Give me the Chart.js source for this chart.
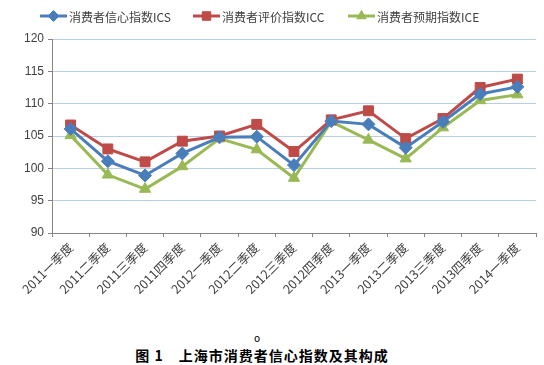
<!DOCTYPE html>
<html>
<head>
<meta charset="utf-8">
<script src="https://cdn.jsdelivr.net/npm/chart.js@4/dist/chart.umd.min.js"></script>
<style>
  body { margin: 0; background: #fff; width: 544px; height: 365px; overflow: hidden; position: relative; }
  #wrap { position: absolute; left: 0; top: 0; width: 544px; height: 320px; }
  #caption { position: absolute; left: 0; width: 544px; top: 345px; text-align: center; font: bold 14px "Noto Sans CJK SC", sans-serif; color: #000; letter-spacing: 1px; padding-right: 20px; box-sizing: border-box; }
  .dot { position: absolute; font: 10px "DejaVu Sans", sans-serif; color: #000; }
</style>
</head>
<body>
<div id="wrap"><canvas id="myChart" width="544" height="320"></canvas></div>
<div class="dot" style="left:254px; top:333px;">o</div>
<div id="caption">图 1　上海市消费者信心指数及其构成</div>
<script>
const quarters = ['2011一季度', '2011二季度', '2011三季度', '2011四季度', '2012一季度', '2012二季度', '2012三季度',
    '2012四季度', '2013一季度', '2013二季度', '2013三季度', '2013四季度', '2014一季度']
const seriesNames = ['消费者信心指数ICS', '消费者评价指数ICC', '消费者预期指数ICE']
const ics = [106.1, 101.1, 98.9, 102.3, 104.8, 104.9, 100.5, 107.3, 106.8, 103.2, 107.2, 111.5, 112.6]
const icc = [106.7, 103.0, 101.0, 104.2, 105.0, 106.8, 102.6, 107.5, 108.9, 104.6, 107.7, 112.5, 113.8]
const ice = [105.1, 99.0, 96.8, 100.3, 104.6, 102.9, 98.5, 107.2, 104.4, 101.5, 106.3, 110.5, 111.4]
const yTicks = [90, 95, 100, 105, 110, 115, 120]

// legend drawn as line + marker, like the office chart
const lineLegend = {
    id: 'lineLegend',
    afterDraw(chart) {
        const ctx = chart.ctx
        const starts = [40, 193, 348]
        ctx.save()
        chart.data.datasets.forEach((ds, i) => {
            const x = starts[i], y = 16
            ctx.strokeStyle = ds.borderColor
            ctx.lineWidth = 3
            ctx.beginPath()
            ctx.moveTo(x, y)
            ctx.lineTo(x + 27, y)
            ctx.stroke()
            ctx.fillStyle = ds.borderColor
            ctx.lineWidth = 1
            Chart.helpers.drawPoint(ctx, { pointStyle: ds.pointStyle, radius: ds.pointRadius - 1, rotation: 0, borderWidth: 1 }, x + 13.5, y)
            ctx.fillStyle = '#404040'
            ctx.font = '12px "Noto Sans CJK SC", sans-serif'
            ctx.textBaseline = 'middle'
            ctx.fillText(ds.label, x + 29, y + 1)
        })
        ctx.restore()
    }
}

const ctx = document.getElementById('myChart')
const chart = new Chart(ctx, {
    type: 'line',
    data: {
        labels: quarters,
        datasets: [
            { label: seriesNames[0], data: ics, borderColor: '#4A7EBB', backgroundColor: '#4A7EBB', pointStyle: 'rectRot', pointRadius: 6.5 },
            { label: seriesNames[1], data: icc, borderColor: '#BE4B48', backgroundColor: '#BE4B48', pointStyle: 'rect', pointRadius: 7 },
            { label: seriesNames[2], data: ice, borderColor: '#98B954', backgroundColor: '#98B954', pointStyle: 'triangle', pointRadius: 6.5 }
        ]
    },
    options: {
        responsive: false,
        animation: false,
        elements: {
            line: { borderWidth: 3, tension: 0 },
            point: { borderWidth: 1, hoverRadius: 7 }
        },
        layout: { padding: { top: 39, right: 7, left: 0, bottom: 0 } },
        plugins: {
            legend: { display: false },
            tooltip: { enabled: false }
        },
        scales: {
            x: {
                offset: true,
                grid: { display: true, drawOnChartArea: false, drawTicks: true, tickLength: 4, color: '#868686', offset: true },
                border: { color: '#868686', width: 1 },
                ticks: {
                    minRotation: 45, maxRotation: 45, padding: 3,
                    color: '#404040',
                    font: { family: '"Noto Sans CJK SC", sans-serif', size: 12.5 }
                },
                afterFit(axis) { axis.height = 87 }
            },
            y: {
                min: 90, max: 120,
                afterBuildTicks(axis) { axis.ticks = yTicks.map(v => ({ value: v })) },
                grid: { color: '#B9CDE5', tickColor: '#868686', tickLength: 4, lineWidth: 1 },
                border: { color: '#868686', width: 1 },
                ticks: {
                    color: '#404040', padding: 4,
                    font: { family: '"Liberation Sans", Arial, sans-serif', size: 12 }
                },
                afterFit(axis) { axis.width = 52 }
            }
        }
    },
    plugins: [lineLegend]
})
</script>
</body>
</html>
